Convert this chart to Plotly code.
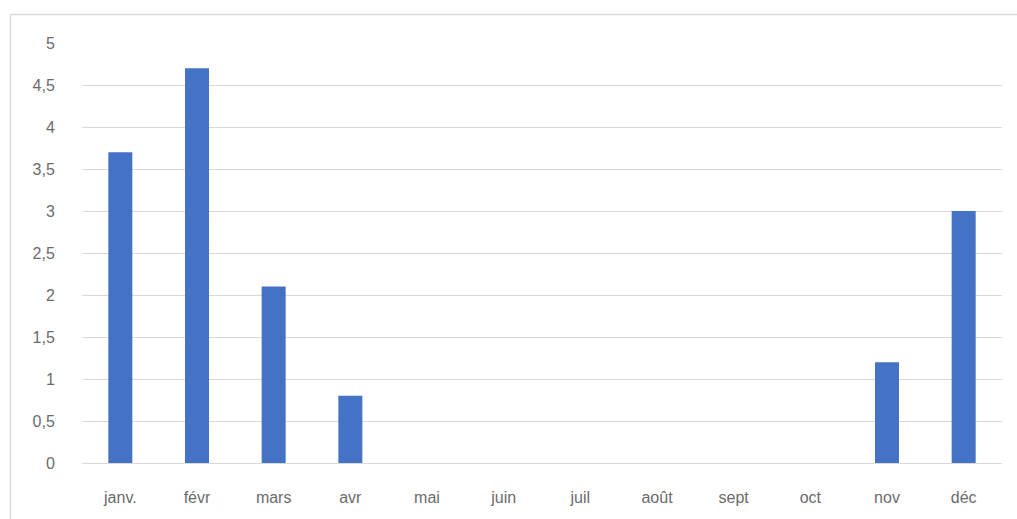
import plotly.graph_objects as go

months = ["janv.", "févr", "mars", "avr", "mai", "juin", "juil", "août", "sept", "oct", "nov", "déc"]
values = [3.7, 4.7, 2.1, 0.8, 0, 0, 0, 0, 0, 0, 1.2, 3.0]
y_ticks = [0, 0.5, 1, 1.5, 2, 2.5, 3, 3.5, 4, 4.5, 5]

W, H = 1017, 519
ML, MR, MT, MB = 82, 15, 43, 56
pw, ph = W - ML - MR, H - MT - MB

fig = go.Figure(go.Bar(x=months, y=values, marker_color="#4472C4", marker_line_width=0))

label_font = dict(family="Liberation Sans, Arial, sans-serif", size=16, color="#6b6b6b")

fig.update_layout(
    width=W, height=H,
    margin=dict(l=ML, r=MR, t=MT, b=MB, pad=0),
    paper_bgcolor="white", plot_bgcolor="white",
    bargap=0.687,
    separators=", ",
    showlegend=False,
    font=label_font,
    xaxis=dict(
        tickfont=label_font, showgrid=False, showline=False, zeroline=False,
        ticks="outside", ticklen=20, tickcolor="rgba(0,0,0,0)",
    ),
    yaxis=dict(
        range=[0, 5], tickvals=y_ticks, tickfont=label_font,
        showgrid=True, gridcolor="#d9d9d9", gridwidth=1,
        zeroline=True, zerolinecolor="#d9d9d9", zerolinewidth=1,
        showline=False, ticks="outside", ticklen=23, tickcolor="rgba(0,0,0,0)",
    ),
    shapes=[
        # outer chart frame (top and left edges visible)
        dict(type="rect", xref="paper", yref="paper",
             x0=(10.5 - ML) / pw, x1=(W + 20 - ML) / pw,
             y0=(MT + ph - (H + 20)) / ph, y1=(MT + ph - 14.5) / ph,
             line=dict(color="#d9d9d9", width=1.5), fillcolor="rgba(0,0,0,0)", layer="below"),
    ],
)

fig.write_html("out.html")
